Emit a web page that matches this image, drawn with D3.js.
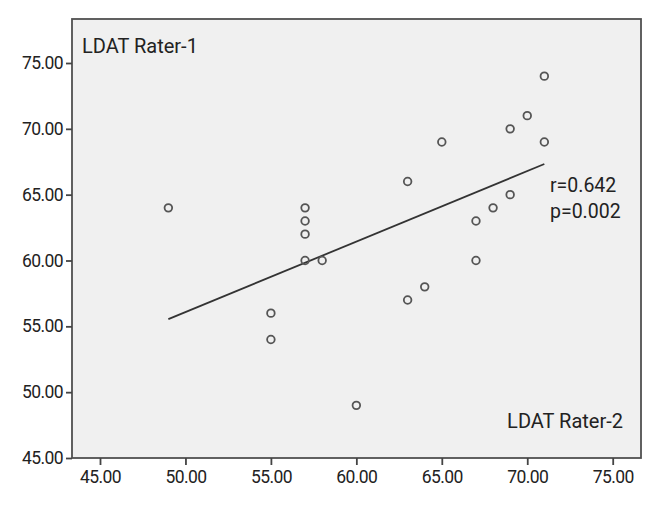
<!DOCTYPE html>
<html>
<head>
<meta charset="utf-8">
<script src="https://cdn.jsdelivr.net/npm/d3@7"></script>
<style>
  body { margin: 0; background: #fff; }
  text { font-family: Roboto, "Liberation Sans", sans-serif; fill: #222; }
</style>
</head>
<body>
<svg id="chart" width="670" height="505"></svg>
<script>
// LDAT Rater-2 (x) vs LDAT Rater-1 (y)
const rater2 = [49, 55, 55, 57, 57, 57, 57, 58, 60, 63, 63, 64, 65, 67, 67, 68, 69, 69, 70, 71, 71];
const rater1 = [64, 56, 54, 64, 63, 62, 60, 60, 49, 66, 57, 58, 69, 63, 60, 64, 70, 65, 71, 74, 69];
const xTicks = [45, 50, 55, 60, 65, 70, 75];
const yTicks = [45, 50, 55, 60, 65, 70, 75];
const stats = ["r=0.642", "p=0.002"];

const svg = d3.select('#chart');
const box = { left: 72, right: 641, top: 19, bottom: 458 };

const x = d3.scaleLinear().domain([45, 75]).range([100, 612.7]);
const y = d3.scaleLinear().domain([45, 75]).range([458, 63]);

svg.append('rect')
	.attr('x', box.left).attr('y', box.top)
	.attr('width', box.right - box.left).attr('height', box.bottom - box.top)
	.attr('fill', '#f0f0f0')
	.attr('stroke', '#505050')
	.attr('stroke-width', 1.8);

const fmt = d3.format('.2f');

const xAxis = svg.append('g')
	.attr('transform', `translate(0,${box.bottom})`)
	.call(d3.axisBottom(x).tickValues(xTicks).tickFormat(fmt).tickSize(7).tickPadding(6));
const yAxis = svg.append('g')
	.attr('transform', `translate(${box.left},0)`)
	.call(d3.axisLeft(y).tickValues(yTicks).tickFormat(fmt).tickSize(6).tickPadding(3));

[xAxis, yAxis].forEach(g => {
	g.select('.domain').remove();
	g.selectAll('line').attr('stroke', '#444').attr('stroke-width', 1.8);
	g.selectAll('text').style('font-size', '17.5px').style('letter-spacing', '-0.6px').attr('fill', '#222');
});

// least squares fit line
const pts = rater2.map((v, i) => [v, rater1[i]]);
const mx = d3.mean(rater2), my = d3.mean(rater1);
const slope = d3.sum(pts, p => (p[0] - mx) * (p[1] - my)) / d3.sum(pts, p => (p[0] - mx) ** 2);
const icpt = my - slope * mx;
const [x0, x1] = d3.extent(rater2);

svg.append('line')
	.attr('x1', x(x0)).attr('y1', y(icpt + slope * x0))
	.attr('x2', x(x1)).attr('y2', y(icpt + slope * x1))
	.attr('stroke', '#333')
	.attr('stroke-width', 1.8);

svg.append('g').selectAll('circle')
	.data(pts)
	.join('circle')
	.attr('cx', d => x(d[0]))
	.attr('cy', d => y(d[1]))
	.attr('r', 3.8)
	.attr('fill', 'none')
	.attr('stroke', '#555')
	.attr('stroke-width', 1.8);

const label = (tx, ty, t, size, anchor) => svg.append('text')
	.attr('x', tx).attr('y', ty)
	.attr('text-anchor', anchor || 'start')
	.style('font-size', size + 'px')
	.text(t);

label(82, 53, 'LDAT Rater-1', 20);
label(623, 428, 'LDAT Rater-2', 20, 'end');
label(550, 192, stats[0], 19.5);
label(550, 218, stats[1], 19.5);
</script>
</body>
</html>
